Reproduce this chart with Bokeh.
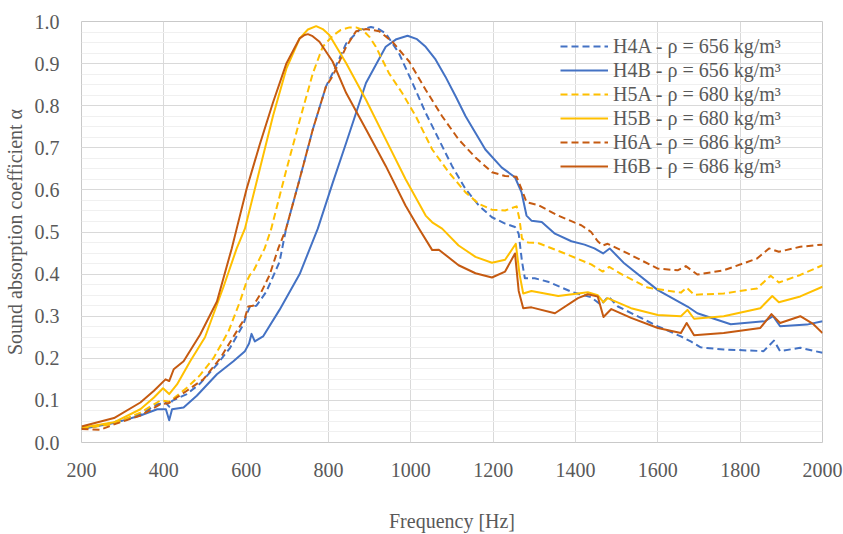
from bokeh.plotting import figure
from bokeh.models import Range1d, FixedTicker, Legend, LegendItem, PrintfTickFormatter
from bokeh.embed import file_html
from bokeh.resources import INLINE

# ---------------- data ----------------
F_H4A = [200, 245, 279, 343, 384, 405, 413, 420, 456, 488, 529, 561, 593, 601, 609, 625, 649, 681, 697, 730,
         762, 794, 810, 843, 875, 903, 920, 939, 971, 1004, 1036, 1068, 1100, 1133, 1165, 1197, 1229, 1253, 1262, 1270, 1277,
         1301, 1333, 1390, 1438, 1462, 1480, 1503, 1559, 1600, 1656, 1680, 1704, 1760, 1857, 1882, 1897, 1946, 2000]
A_H4A = [0.034, 0.040, 0.048, 0.067, 0.091, 0.094, 0.085, 0.099, 0.115, 0.140, 0.185, 0.225, 0.280, 0.303, 0.323, 0.325, 0.358, 0.429, 0.508, 0.626,
         0.744, 0.846, 0.877, 0.948, 0.980, 0.987, 0.983, 0.972, 0.925, 0.854, 0.783, 0.720, 0.657, 0.602, 0.563, 0.535, 0.520, 0.512, 0.496, 0.430, 0.390,
         0.390, 0.382, 0.358, 0.345, 0.327, 0.347, 0.323, 0.296, 0.276, 0.252, 0.240, 0.226, 0.221, 0.217, 0.242, 0.217, 0.225, 0.213]

F_H4B = [200, 279, 343, 384, 405, 413, 420, 448, 480, 529, 569, 597, 607, 613, 621, 641, 681, 730, 774, 810,
         843, 891, 939, 965, 992, 1015, 1036, 1060, 1084, 1110, 1133, 1181, 1221, 1253, 1269, 1281, 1293, 1318, 1350, 1390, 1422, 1446, 1467, 1483,
         1519, 1600, 1672, 1696, 1777, 1860, 1880, 1897, 1962, 2000]
A_H4B = [0.032, 0.046, 0.064, 0.079, 0.079, 0.053, 0.079, 0.083, 0.111, 0.162, 0.193, 0.217, 0.235, 0.258, 0.240, 0.252, 0.315, 0.400, 0.508, 0.616,
         0.712, 0.854, 0.940, 0.958, 0.966, 0.958, 0.940, 0.910, 0.869, 0.820, 0.775, 0.696, 0.653, 0.630, 0.594, 0.539, 0.527, 0.524, 0.496, 0.478, 0.470, 0.461, 0.449, 0.461,
         0.425, 0.362, 0.323, 0.307, 0.281, 0.288, 0.300, 0.276, 0.280, 0.288]

F_H5A = [200, 279, 343, 392, 413, 424, 456, 488, 521, 557, 585, 601, 609, 617, 645, 661, 698, 730, 762, 786,
         810, 830, 851, 867, 883, 900, 915, 947, 979, 1012, 1052, 1092, 1133, 1165, 1197, 1229, 1257, 1264, 1270, 1285, 1309, 1374, 1438,
         1466, 1482, 1519, 1575, 1656, 1670, 1688, 1760, 1841, 1874, 1894, 1946, 2000]
A_H5A = [0.033, 0.044, 0.071, 0.100, 0.097, 0.105, 0.130, 0.160, 0.201, 0.264, 0.335, 0.382, 0.398, 0.406, 0.461, 0.508, 0.649, 0.765, 0.877, 0.940,
         0.966, 0.980, 0.986, 0.986, 0.980, 0.963, 0.940, 0.877, 0.830, 0.775, 0.696, 0.642, 0.594, 0.567, 0.553, 0.551, 0.561, 0.530, 0.484, 0.475, 0.474, 0.449, 0.423,
         0.406, 0.417, 0.396, 0.368, 0.356, 0.368, 0.351, 0.354, 0.366, 0.396, 0.380, 0.398, 0.421]

F_H5B = [200, 279, 343, 376, 398, 413, 432, 464, 500, 545, 577, 597, 633, 665, 698, 730, 750, 770, 786, 802, 843, 891,
         939, 987, 1036, 1052, 1076, 1116, 1157, 1197, 1229, 1255, 1264, 1273, 1293, 1358, 1430, 1454, 1468, 1478, 1535, 1600,
         1656, 1672, 1688, 1760, 1849, 1878, 1894, 1946, 2000]
A_H5B = [0.035, 0.048, 0.079, 0.107, 0.129, 0.115, 0.138, 0.193, 0.250, 0.370, 0.461, 0.508, 0.649, 0.775, 0.889, 0.960, 0.981, 0.989, 0.982, 0.968, 0.901, 0.814,
         0.720, 0.626, 0.539, 0.523, 0.508, 0.468, 0.441, 0.427, 0.434, 0.472, 0.400, 0.354, 0.360, 0.348, 0.357, 0.350, 0.333, 0.343, 0.319, 0.303,
         0.300, 0.315, 0.294, 0.300, 0.319, 0.348, 0.333, 0.347, 0.370]

F_H6A = [200, 245, 279, 343, 392, 413, 424, 456, 496, 537, 577, 597, 605, 617, 633, 657, 678, 697, 730, 762,
         794, 810, 843, 867, 891, 923, 955, 996, 1036, 1076, 1116, 1157, 1197, 1229, 1257, 1269, 1281, 1309, 1358, 1414,
         1438, 1454, 1466, 1478, 1519, 1600, 1648, 1668, 1696, 1760, 1841, 1870, 1894, 1946, 2000]
A_H6A = [0.032, 0.030, 0.043, 0.064, 0.091, 0.094, 0.102, 0.123, 0.150, 0.200, 0.264, 0.296, 0.323, 0.325, 0.350, 0.398, 0.461, 0.508, 0.626, 0.744,
         0.846, 0.870, 0.940, 0.977, 0.982, 0.977, 0.952, 0.905, 0.838, 0.775, 0.720, 0.677, 0.642, 0.633, 0.631, 0.602, 0.571, 0.564, 0.539, 0.516,
         0.500, 0.478, 0.468, 0.472, 0.453, 0.413, 0.409, 0.419, 0.399, 0.409, 0.437, 0.461, 0.453, 0.465, 0.470]

F_H6B = [200, 279, 343, 376, 404, 413, 424, 448, 488, 529, 565, 577, 601, 633, 665, 698, 730, 742, 750, 760, 778, 810,
         843, 891, 939, 987, 1020, 1052, 1068, 1116, 1157, 1197, 1229, 1253, 1262, 1273, 1293, 1350, 1406, 1430, 1454, 1468,
         1487, 1535, 1600, 1656, 1670, 1688, 1760, 1849, 1876, 1897, 1946, 1978, 2000]
A_H6B = [0.038, 0.058, 0.095, 0.123, 0.150, 0.146, 0.174, 0.193, 0.256, 0.335, 0.461, 0.508, 0.602, 0.708, 0.807, 0.901, 0.960, 0.968, 0.970, 0.966, 0.952, 0.905,
         0.830, 0.744, 0.657, 0.563, 0.508, 0.457, 0.458, 0.421, 0.402, 0.392, 0.406, 0.449, 0.360, 0.319, 0.321, 0.307, 0.343, 0.352, 0.347, 0.298,
         0.317, 0.296, 0.272, 0.260, 0.284, 0.255, 0.260, 0.272, 0.305, 0.284, 0.300, 0.281, 0.260]

SERIES_LABELS = ["H4A - ρ = 656 kg/m³", "H4B - ρ = 656 kg/m³", "H5A - ρ = 680 kg/m³",
                 "H5B - ρ = 680 kg/m³", "H6A - ρ = 686 kg/m³", "H6B - ρ = 686 kg/m³"]
X_TICKS = [200, 400, 600, 800, 1000, 1200, 1400, 1600, 1800, 2000]
Y_TICKS = [0.0, 0.1, 0.2, 0.3, 0.4, 0.5, 0.6, 0.7, 0.8, 0.9, 1.0]
Y_MINOR = [i * 0.025 for i in range(41)]
X_TITLE = "Frequency [Hz]"
Y_TITLE = "Sound absorption coefficient α"

# ---------------- styling ----------------
BLUE, GOLD, ORANGE = "#4472C4", "#FFC000", "#C55A11"
TXT = "#595959"
FONT = "Liberation Serif"

p = figure(width=843, height=534, output_backend="svg", toolbar_location=None,
           x_range=Range1d(200, 2000), y_range=Range1d(0, 1),
           min_border_left=77, min_border_right=21, min_border_top=21, min_border_bottom=89)
p.background_fill_color = "white"
p.border_fill_color = "white"
p.outline_line_color = "#c9c9c9"
p.outline_line_width = 1

p.xaxis.ticker = FixedTicker(ticks=X_TICKS)
p.yaxis.ticker = FixedTicker(ticks=Y_TICKS)
p.yaxis.formatter = PrintfTickFormatter(format="%.1f")
p.xgrid.ticker = FixedTicker(ticks=X_TICKS)
p.ygrid.ticker = FixedTicker(ticks=Y_TICKS, minor_ticks=Y_MINOR)
p.xgrid.grid_line_color = "#d9d9d9"
p.ygrid.grid_line_color = "#d9d9d9"
p.ygrid.minor_grid_line_color = "#f0f0f0"

for ax in (p.xaxis, p.yaxis):
    ax.axis_line_color = None
    ax.major_tick_line_color = None
    ax.minor_tick_line_color = None
    ax.major_label_text_font = FONT
    ax.major_label_text_font_size = "20px"
    ax.major_label_text_color = TXT
    ax.axis_label_text_font = FONT
    ax.axis_label_text_font_size = "20px"
    ax.axis_label_text_font_style = "normal"
    ax.axis_label_text_color = TXT

p.xaxis.axis_label = X_TITLE
p.yaxis.axis_label = Y_TITLE
p.xaxis.major_label_standoff = 14
p.xaxis.axis_label_standoff = 30
p.yaxis.major_label_standoff = 16
p.yaxis.axis_label_standoff = 6

specs = [(F_H4A, A_H4A, BLUE, "7 4"), (F_H4B, A_H4B, BLUE, "solid"),
         (F_H5A, A_H5A, GOLD, "7 4"), (F_H5B, A_H5B, GOLD, "solid"),
         (F_H6A, A_H6A, ORANGE, "7 4"), (F_H6B, A_H6B, ORANGE, "solid")]
items = []
for (fx, ay, col, dash), lab in zip(specs, SERIES_LABELS):
    r = p.line(fx, ay, line_color=col, line_width=2, line_dash=dash, line_join="round")
    items.append(LegendItem(label=lab, renderers=[r]))

legend = Legend(items=items, location=(479, 264),
                label_text_font=FONT, label_text_font_size="20px", label_text_color=TXT,
                glyph_width=48, glyph_height=24, label_height=24, label_standoff=5,
                spacing=0, padding=0, margin=0,
                background_fill_alpha=0, border_line_alpha=0)
p.add_layout(legend, "center")

open("out.html", "w").write(file_html(p, INLINE))
